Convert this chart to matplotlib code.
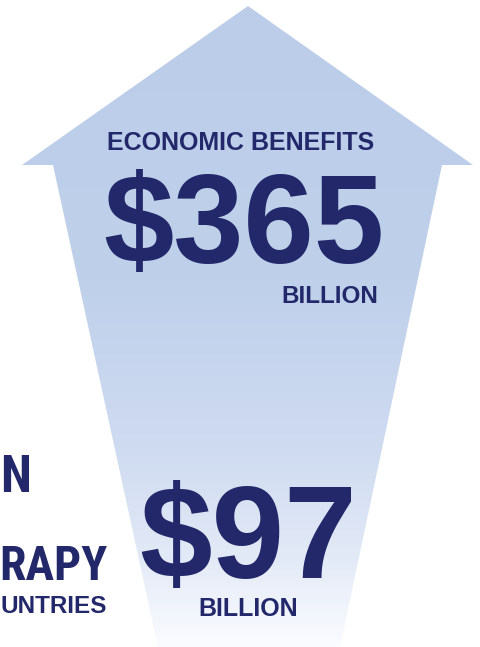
import numpy as np
import matplotlib.pyplot as plt
from matplotlib import font_manager
from matplotlib.patches import Polygon
from matplotlib.colors import to_rgb

# values shown on the arrow
values = [365, 97]
value_labels = ["$" + str(v) for v in values]
unit = "BILLION"
top_title = "ECONOMIC BENEFITS"
# cut-off text on the left edge
side_texts = ["N", "RAPY", "UNTRIES"]

NAVY = "#22286a"
W, H = 481, 647

# look for a condensed face, else plain Liberation Sans
installed = {f.name for f in font_manager.fontManager.ttflist}
cond = "Liberation Sans"
for cand in ["Liberation Sans Narrow", "Roboto Condensed", "Noto Sans Condensed",
             "Open Sans Condensed", "DejaVu Sans Condensed", "Arial Narrow"]:
    if cand in installed:
        cond = cand
        break

fig = plt.figure(figsize=(W / 100, H / 100), dpi=100)
ax = fig.add_axes([0, 0, 1, 1])
ax.set_xlim(0, W)
ax.set_ylim(H, 0)
ax.axis("off")

# arrow outline (tip, wings, tapered shaft)
arrow = [(248, 6), (473, 165), (442, 165), (340, 647),
         (158, 647), (53, 165), (22, 165)]
patch = Polygon(arrow, closed=True, facecolor="none", edgecolor="none")
ax.add_patch(patch)

# vertical gradient light blue -> white
stops_y = [0, 280, 450, 560, 647]
stops_c = [to_rgb(c) for c in ["#bccdea", "#bfd0eb", "#cfdbf1", "#e3eaf7", "#fbfcff"]]
yy = np.linspace(0, H, 400)
grad = np.zeros((len(yy), 1, 3))
for ch in range(3):
    grad[:, 0, ch] = np.interp(yy, stops_y, [c[ch] for c in stops_c])
im = ax.imshow(grad, extent=[0, W, H, 0], aspect="auto", zorder=1)
im.set_clip_path(patch)

bold = dict(color=NAVY, fontweight="bold", zorder=3)
sans = ["Liberation Sans", "DejaVu Sans"]

ax.text(241, 150, top_title, ha="center", va="baseline", fontsize=18, family=sans, **bold)
ax.text(244, 263, value_labels[0], ha="center", va="baseline", fontsize=91, family=sans, **bold)
ax.text(378, 303, unit, ha="right", va="baseline", fontsize=17.5, family=sans, **bold)

ax.text(248, 578, value_labels[1], ha="center", va="baseline", fontsize=94, family=sans, **bold)
ax.text(248, 616, unit, ha="center", va="baseline", fontsize=18, family=sans, **bold)

# left texts: size from cap height, shrunk if too wide for the space
renderer = fig.canvas.get_renderer()
for s, xr, yb, cap, maxw in [(side_texts[0], 31, 492, 40, 31),
                             (side_texts[1], 108, 580, 39, 108)]:
    fs = cap / 0.72 * 0.72
    t = ax.text(xr, yb, s, ha="right", va="baseline", fontsize=fs,
                family=[cond, "DejaVu Sans"], fontstretch="condensed", **bold)
    w = t.get_window_extent(renderer).width
    if w > maxw:
        t.set_fontsize(fs * maxw / w)
ax.text(107, 613, side_texts[2], ha="right", va="baseline", fontsize=17.5, family=sans, **bold)

fig.savefig("out.png", dpi=100, facecolor="white")
